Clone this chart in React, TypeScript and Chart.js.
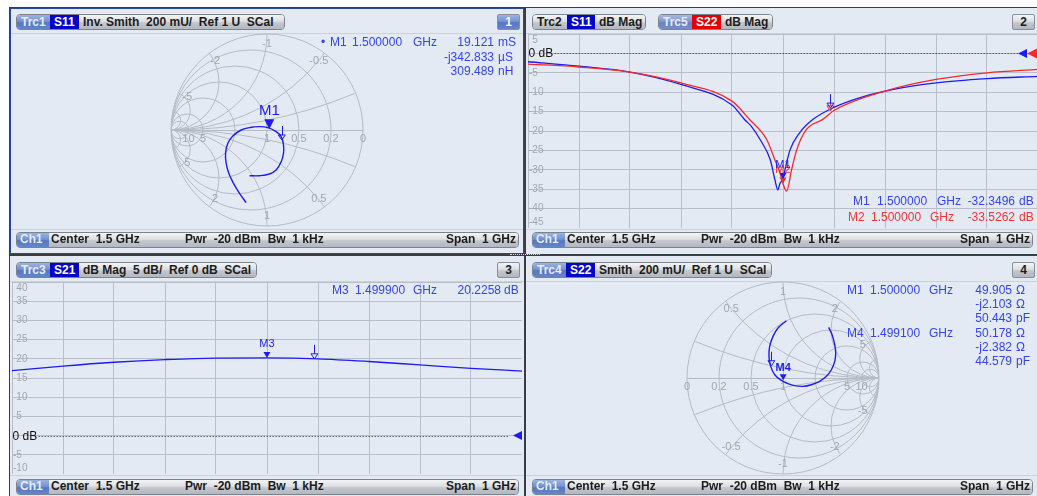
import React, { useEffect, useRef } from "react";
import { Chart, registerables } from "chart.js";
Chart.register(...registerables);

// ================= DATA =================
// Trc3 S21 dB Mag (frequency in GHz)
const s21FreqGHz = [1.0, 1.1, 1.2, 1.3, 1.4, 1.5, 1.6, 1.7, 1.8, 1.9, 2.0];
const s21MagDb = [16.9, 18.1, 19.1, 19.8, 20.2, 20.23, 20.0, 19.3, 18.4, 17.5, 16.8];

// Trc2 S11 dB Mag
const s11FreqGHz = [1.0, 1.1, 1.2, 1.3, 1.4, 1.425, 1.438, 1.455, 1.475, 1.484, 1.49, 1.494, 1.5, 1.504, 1.514, 1.533, 1.559, 1.6, 1.648, 1.7, 1.8, 1.9, 2.0];
const s11MagDb = [-2.15, -3.3, -4.8, -8.0, -13.3, -17.1, -18.8, -22.2, -27.4, -32.5, -35.2, -33.5, -32.35, -29.9, -24.8, -20.4, -17.0, -13.9, -11.5, -9.7, -7.6, -6.5, -5.9];

// Trc5 S22 dB Mag
const s22FreqGHz = [1.0, 1.1, 1.2, 1.3, 1.4, 1.435, 1.468, 1.484, 1.494, 1.5, 1.507, 1.517, 1.527, 1.546, 1.578, 1.6, 1.7, 1.8, 1.9, 2.0];
const s22MagDb = [-2.75, -3.5, -4.8, -7.6, -12.3, -17.1, -22.2, -27.4, -30.7, -33.53, -35.5, -29.9, -24.8, -19.6, -17.0, -14.7, -9.7, -6.7, -5.0, -4.1];

// Trc1 S11 on inverted Smith (reflection coefficient, real / imaginary)
const s11GammaRe = [-0.217, -0.286, -0.349, -0.398, -0.425, -0.432, -0.408, -0.356, -0.269, -0.165, -0.078, 0.009, 0.095, 0.148, 0.172, 0.172, 0.148, 0.095, 0.026, -0.078, -0.182];
const s11GammaIm = [-0.757, -0.66, -0.556, -0.451, -0.347, -0.243, -0.139, -0.063, 0.0, 0.028, 0.035, 0.024, -0.017, -0.069, -0.156, -0.243, -0.33, -0.417, -0.458, -0.476, -0.476];

// Trc4 S22 on Smith
const s22GammaRe = [0.476, 0.511, 0.539, 0.549, 0.539, 0.504, 0.452, 0.382, 0.295, 0.209, 0.122, 0.052, -0.017, -0.086, -0.128, -0.146, -0.139, -0.104, -0.052, 0.035];
const s22GammaIm = [0.527, 0.451, 0.347, 0.26, 0.173, 0.086, 0.017, -0.035, -0.07, -0.087, -0.08, -0.059, -0.025, 0.034, 0.121, 0.225, 0.33, 0.434, 0.521, 0.597];

// axis ticks
const freqMinGHz = 1.0;
const freqMaxGHz = 2.0;
const freqStepGHz = 0.1;
const trc2YTicks = [5, 0, -5, -10, -15, -20, -25, -30, -35, -40, -45];
const trc3YTicks = [40, 35, 30, 25, 20, 15, 10, 5, 0, -5, -10];
const smithCircleValues = [0.2, 0.5, 1, 2, 5, 10];
const smithArcValues = [0.2, 0.5, 1, 2, 5, 10];
const smithAxisLabels = [0, 0.2, 0.5, 1, 5, 10];
const smithArcLabels = [0.5, 1, 2, 5, -0.5, -1, -2, -5];

// markers
const trc2MarkerNames = ["M2", "M1"];
const trc2MarkerFreq = [1.5, 1.5];
const trc2MarkerDb = [-33.5262, -32.3496];
const trc3MarkerNames = ["M3"];
const trc3MarkerFreq = [1.4999];
const trc3MarkerDb = [20.2258];
const trackFreqGHz = 1.593;
const trc2TrackDb = [-14.8, -14.1];
const trc3TrackDb = [20.0];
const trc1MarkerGamma = [0.024, 0.009];
const trc1TrackGamma = [0.154, -0.104];
const trc4MarkerGamma = [0.002, -0.024];
const trc4TrackGamma = [-0.121, 0.128];

// ================= STYLE =================
const W = 1037;
const H = 496;
const SANS = '"Liberation Sans", Arial, sans-serif';
const BG = "#e4eaf4";
const GRID = "#b9bec8";
const SMITH_GRID = "#b5bac3";
const LABEL_GRAY = "#a0a5ae";
const TRACE_BLUE = "#1c1cf2";
const TRACE_RED = "#f42a2a";
const TEXT_BLUE = "#3344ee";
const TEXT_RED = "#ee3636";

function fillMarker(ctx: any, x: number, y: number, w: number, h: number, color: string, label: string, font: string, gap: number) {
  ctx.fillStyle = color;
  ctx.beginPath();
  ctx.moveTo(x, y);
  ctx.lineTo(x - w / 2, y - h);
  ctx.lineTo(x + w / 2, y - h);
  ctx.closePath();
  ctx.fill();
  ctx.font = font;
  ctx.textAlign = "center";
  ctx.textBaseline = "bottom";
  ctx.fillText(label, x, y - h - gap);
}

function trackMarker(ctx: any, x: number, y: number, color: string) {
  ctx.strokeStyle = color;
  ctx.lineWidth = 1;
  ctx.setLineDash([]);
  ctx.beginPath();
  ctx.moveTo(x - 3.5, y - 5);
  ctx.lineTo(x + 3.5, y - 5);
  ctx.lineTo(x, y);
  ctx.closePath();
  ctx.stroke();
  ctx.beginPath();
  ctx.moveTo(Math.round(x) + 0.5, y - 5);
  ctx.lineTo(Math.round(x) + 0.5, y - 14);
  ctx.stroke();
}

function DbChart(props: any) {
  const ref = useRef<HTMLCanvasElement>(null);
  const { left, top, width, height, yMin, yMax, yTicks, traces, markers, tracks, arrows, markerFont } = props;
  useEffect(() => {
    const canvas = ref.current!;
    const decor = {
      id: "dbDecor",
      beforeDatasetsDraw(chart: any) {
        const { ctx, chartArea: a } = chart;
        const ys = chart.scales.y;
        ctx.save();
        ctx.font = `10px ${SANS}`;
        ctx.fillStyle = LABEL_GRAY;
        ctx.textBaseline = "middle";
        ctx.textAlign = "left";
        const dash = ctx.measureText("-").width;
        for (const v of yTicks) {
          if (v === 0) continue;
          let py = ys.getPixelForValue(v);
          if (py < a.top + 6) py = a.top + 6;
          if (py > a.bottom - 6) py = a.bottom - 6;
          ctx.fillText(String(v), a.left + 1 + (v > 0 ? dash : 0), py);
        }
        const p0 = Math.round(ys.getPixelForValue(0)) + 0.5;
        ctx.font = `12px ${SANS}`;
        ctx.fillStyle = "#111";
        ctx.fillText("0 dB", a.left + 0.5, p0);
        const tw = ctx.measureText("0 dB").width;
        ctx.strokeStyle = "#222";
        ctx.lineWidth = 1;
        ctx.setLineDash([1, 2]);
        ctx.beginPath();
        ctx.moveTo(a.left + tw + 2, p0);
        ctx.lineTo(a.right - 14, p0);
        ctx.stroke();
        ctx.restore();
      },
      afterDatasetsDraw(chart: any) {
        const { ctx, chartArea: a } = chart;
        const xs = chart.scales.x;
        const ys = chart.scales.y;
        ctx.save();
        for (const t of tracks) {
          trackMarker(ctx, xs.getPixelForValue(t.f), ys.getPixelForValue(t.v), t.color);
        }
        for (const m of markers) {
          fillMarker(ctx, xs.getPixelForValue(m.f), ys.getPixelForValue(m.v), 7, 6, m.color, m.name, markerFont, 2);
        }
        const p0 = ys.getPixelForValue(0);
        for (const ar of arrows) {
          ctx.fillStyle = ar.color;
          ctx.beginPath();
          ctx.moveTo(a.right - ar.tip, p0);
          ctx.lineTo(a.right - ar.tip + ar.w, p0 - ar.h / 2);
          ctx.lineTo(a.right - ar.tip + ar.w, p0 + ar.h / 2);
          ctx.closePath();
          ctx.fill();
        }
        ctx.restore();
      },
    };
    const chart = new Chart(canvas, {
      type: "line",
      data: {
        datasets: traces.map((t: any) => ({
          data: t.f.map((f: number, i: number) => ({ x: f, y: t.v[i] })),
          borderColor: t.color,
          borderWidth: 1.3,
          pointRadius: 0,
          cubicInterpolationMode: "monotone",
          fill: false,
        })),
      },
      options: {
        responsive: false,
        animation: false,
        devicePixelRatio: 1,
        events: [],
        layout: { padding: 0 },
        plugins: { legend: { display: false }, tooltip: { enabled: false } },
        scales: {
          x: {
            type: "linear",
            min: freqMinGHz,
            max: freqMaxGHz,
            ticks: { display: false, stepSize: freqStepGHz },
            grid: { color: GRID, drawTicks: false, lineWidth: 1 },
            border: { display: false },
          },
          y: {
            type: "linear",
            min: yMin,
            max: yMax,
            ticks: { display: false, stepSize: 5 },
            grid: { color: GRID, drawTicks: false, lineWidth: 1 },
            border: { display: false },
          },
        },
      } as any,
      plugins: [decor],
    });
    return () => chart.destroy();
  }, []);
  return <canvas ref={ref} width={width} height={height} style={{ position: "absolute", left, top, width, height }} />;
}

function SmithChart(props: any) {
  const ref = useRef<HTMLCanvasElement>(null);
  const { cx, cy, size, radius, admittance, re, im, marker, track, markerCfg } = props;
  useEffect(() => {
    const canvas = ref.current!;
    const range = size / 2 / radius;
    const fmt = (v: number) => String(v);
    const grid = {
      id: "smithGrid",
      beforeDatasetsDraw(chart: any) {
        const { ctx } = chart;
        const xs = chart.scales.x;
        const ys = chart.scales.y;
        const px = (g: number) => xs.getPixelForValue(g);
        const py = (g: number) => ys.getPixelForValue(g);
        const c0x = px(0);
        const c0y = py(0);
        const R = px(1) - c0x;
        const m = admittance ? -1 : 1;
        ctx.save();
        ctx.lineWidth = 1;
        ctx.strokeStyle = SMITH_GRID;
        ctx.beginPath();
        ctx.arc(c0x, c0y, R, 0, Math.PI * 2);
        ctx.stroke();
        ctx.save();
        ctx.beginPath();
        ctx.arc(c0x, c0y, R, 0, Math.PI * 2);
        ctx.clip();
        for (const r of smithCircleValues) {
          ctx.beginPath();
          ctx.arc(px((m * r) / (1 + r)), c0y, R / (1 + r), 0, Math.PI * 2);
          ctx.stroke();
        }
        for (const xv of smithArcValues) {
          for (const s of [1, -1]) {
            ctx.beginPath();
            ctx.arc(px(m), py(s / xv), R / xv, 0, Math.PI * 2);
            ctx.stroke();
          }
        }
        ctx.beginPath();
        ctx.moveTo(c0x - R, Math.round(c0y) + 0.5);
        ctx.lineTo(c0x + R, Math.round(c0y) + 0.5);
        ctx.stroke();
        ctx.restore();
        ctx.font = `11px ${SANS}`;
        ctx.fillStyle = LABEL_GRAY;
        ctx.textAlign = "center";
        ctx.textBaseline = "middle";
        for (const r of smithAxisLabels) {
          ctx.fillText(fmt(r), px((m * (r - 1)) / (r + 1)), c0y + 9);
        }
        for (const v of smithArcLabels) {
          const d = v * v + 1;
          const gx = ((m * (v * v - 1)) / d) * 0.9;
          const gy = ((2 * v) / d) * 0.9;
          ctx.fillText(fmt(admittance ? -v : v), px(gx), py(gy));
        }
        ctx.restore();
      },
      afterDatasetsDraw(chart: any) {
        const { ctx } = chart;
        const xs = chart.scales.x;
        const ys = chart.scales.y;
        ctx.save();
        trackMarker(ctx, xs.getPixelForValue(track[0]), ys.getPixelForValue(track[1]), TRACE_BLUE);
        fillMarker(
          ctx,
          xs.getPixelForValue(marker[0]),
          ys.getPixelForValue(marker[1]),
          markerCfg.w,
          markerCfg.h,
          TRACE_BLUE,
          markerCfg.name,
          markerCfg.font,
          markerCfg.gap
        );
        ctx.restore();
      },
    };
    const chart = new Chart(canvas, {
      type: "scatter",
      data: {
        datasets: [
          {
            data: re.map((r: number, i: number) => ({ x: r, y: im[i] })),
            showLine: true,
            borderColor: TRACE_BLUE,
            borderWidth: 1.4,
            pointRadius: 0,
            tension: 0.4,
            fill: false,
          },
        ],
      },
      options: {
        responsive: false,
        animation: false,
        devicePixelRatio: 1,
        events: [],
        layout: { padding: 0 },
        plugins: { legend: { display: false }, tooltip: { enabled: false } },
        scales: {
          x: { type: "linear", min: -range, max: range, display: false },
          y: { type: "linear", min: -range, max: range, display: false },
        },
      } as any,
      plugins: [grid],
    });
    return () => chart.destroy();
  }, []);
  return (
    <canvas
      ref={ref}
      width={size}
      height={size}
      style={{ position: "absolute", left: cx - size / 2, top: cy - size / 2, width: size, height: size }}
    />
  );
}

const GRAY_GRAD = "linear-gradient(#f3f4f6 0%, #dcdfe3 45%, #c4c7cd 55%, #b3b7be 100%)";
const BLUE_GRAD = "linear-gradient(#9bb3e2 0%, #7393d2 45%, #5677bf 55%, #6486c8 100%)";
const ALT_GRAD = "linear-gradient(#a5b8df 0%, #8199cf 45%, #6782bf 55%, #7590c8 100%)";

function segBg(kind: string) {
  switch (kind) {
    case "trc":
      return { background: BLUE_GRAD, color: "#e6ecf8" };
    case "alt":
      return { background: ALT_GRAD, color: "#e6ecf8" };
    case "sblue":
      return { background: "#0505c8", color: "#ffffff" };
    case "sred":
      return { background: "#e40000", color: "#ffffff" };
    default:
      return { background: GRAY_GRAD, color: "#1c1c1c" };
  }
}

function Btn({ left, top, segs }: any) {
  return (
    <div
      style={{
        position: "absolute",
        left,
        top,
        height: 16,
        display: "flex",
        borderRadius: 4,
        overflow: "hidden",
        border: "1px solid #7d838d",
        boxSizing: "border-box",
        font: `bold 12px ${SANS}`,
        whiteSpace: "pre",
      }}
    >
      {segs.map((s: any, i: number) => (
        <div
          key={i}
          style={{
            ...segBg(s.kind),
            width: s.w,
            boxSizing: "border-box",
            paddingLeft: s.pl ?? 4,
            display: "flex",
            alignItems: "center",
            lineHeight: "14px",
          }}
        >
          {s.text}
        </div>
      ))}
    </div>
  );
}

function NumBox({ left, top, text, active }: any) {
  return (
    <div
      style={{
        position: "absolute",
        left,
        top,
        width: 23,
        height: 16,
        boxSizing: "border-box",
        border: "1px solid #8a9099",
        borderRadius: 2,
        background: active ? BLUE_GRAD : GRAY_GRAD,
        color: active ? "#f0f4fc" : "#1c1c1c",
        font: `bold 12px ${SANS}`,
        display: "flex",
        alignItems: "center",
        justifyContent: "center",
        lineHeight: "14px",
      }}
    >
      {text}
    </div>
  );
}

function Footer({ left, top, width }: any) {
  return (
    <div style={{ position: "absolute", left, top, width, height: 16 }}>
      <div
        style={{
          position: "absolute",
          inset: 0,
          display: "flex",
          borderRadius: 4,
          overflow: "hidden",
          border: "1px solid #7d838d",
          boxSizing: "border-box",
        }}
      >
        <div style={{ width: 32, background: BLUE_GRAD }} />
        <div style={{ flex: 1, background: GRAY_GRAD }} />
      </div>
      <div style={{ position: "absolute", left: 4, top: 0, height: 16, lineHeight: "16px", font: `bold 12px ${SANS}`, color: "#e6ecf8" }}>Ch1</div>
      <div style={{ position: "absolute", left: 35, top: 0, height: 16, lineHeight: "16px", font: `bold 12px ${SANS}`, color: "#1c1c1c", whiteSpace: "pre" }}>
        Center  1.5 GHz
      </div>
      <div style={{ position: "absolute", left: 169, top: 0, height: 16, lineHeight: "16px", font: `bold 12px ${SANS}`, color: "#1c1c1c", whiteSpace: "pre" }}>
        Pwr  -20 dBm  Bw  1 kHz
      </div>
      <div style={{ position: "absolute", right: 3, top: 0, height: 16, lineHeight: "16px", font: `bold 12px ${SANS}`, color: "#1c1c1c", whiteSpace: "pre" }}>
        Span  1 GHz
      </div>
    </div>
  );
}

function Txt({ x, y, text, color, right }: any) {
  const st: any = {
    position: "absolute",
    top: y - 8,
    height: 16,
    lineHeight: "16px",
    font: `12px ${SANS}`,
    color,
    whiteSpace: "pre",
  };
  if (right) st.right = W - x;
  else st.left = x;
  return <div style={st}>{text}</div>;
}

function Readout({ y, color, name, nameX, freq, freqX, unitX, value, valueX, vunit, vunitX }: any) {
  return (
    <>
      {name != null && <Txt x={nameX} y={y} text={name} color={color} />}
      {freq != null && <Txt x={freqX} y={y} text={freq} color={color} />}
      {freq != null && <Txt x={unitX} y={y} text="GHz" color={color} />}
      <Txt x={valueX} y={y} text={value} color={color} right />
      <Txt x={vunitX} y={y} text={vunit} color={color} />
    </>
  );
}

export default function App() {
  const dash = (left: number, top: number, width: number) => (
    <div style={{ position: "absolute", left, top, width, height: 1, background: "#cdd2da" }} />
  );
  return (
    <div style={{ position: "fixed", left: 0, top: 0, width: W, height: H, background: "#ffffff", overflow: "hidden", fontFamily: SANS }}>
      <div style={{ position: "absolute", left: 9, top: 7, width: W - 9, height: H - 7, background: "#3a3d45" }} />
      <div style={{ position: "absolute", left: 10, top: 8, width: 514, height: 246, background: BG, border: "1px solid #2a47a2", boxSizing: "border-box" }} />
      <div style={{ position: "absolute", left: 526, top: 8, width: 511, height: 246, background: BG }} />
      <div style={{ position: "absolute", left: 10, top: 256, width: 514, height: 240, background: BG }} />
      <div style={{ position: "absolute", left: 526, top: 256, width: 511, height: 240, background: BG }} />
      <div style={{ position: "absolute", left: 510, top: 254, width: 30, height: 1, borderTop: "1px dotted #d8dce2" }} />
      {dash(11, 33, 512)}
      {dash(526, 33, 511)}
      {dash(11, 229, 512)}
      {dash(526, 229, 511)}
      {dash(10, 281, 514)}
      {dash(526, 281, 511)}
      {dash(10, 475, 514)}
      {dash(526, 475, 511)}

      {/* Panel 1: inverted Smith */}
      <SmithChart
        cx={267}
        cy={130}
        size={210}
        radius={96}
        admittance
        re={s11GammaRe}
        im={s11GammaIm}
        marker={trc1MarkerGamma}
        track={trc1TrackGamma}
        markerCfg={{ name: "M1", w: 10, h: 10, font: `15px ${SANS}`, gap: 1 }}
      />
      {/* Panel 2: dB Mag S11 / S22 */}
      <DbChart
        left={528}
        top={34}
        width={510}
        height={194}
        yMin={-45}
        yMax={5}
        yTicks={trc2YTicks}
        traces={[
          { f: s22FreqGHz, v: s22MagDb, color: TRACE_RED },
          { f: s11FreqGHz, v: s11MagDb, color: TRACE_BLUE },
        ]}
        markers={trc2MarkerNames.map((n, i) => ({ name: n, f: trc2MarkerFreq[i], v: trc2MarkerDb[i], color: i === 0 ? TRACE_RED : TRACE_BLUE }))}
        tracks={trc2TrackDb.map((v, i) => ({ f: trackFreqGHz, v, color: i === 0 ? TRACE_RED : TRACE_BLUE }))}
        arrows={[
          { color: TRACE_BLUE, tip: 20, w: 9, h: 9 },
          { color: TRACE_RED, tip: 11, w: 11, h: 11 },
        ]}
        markerFont={`11px ${SANS}`}
      />
      {/* Panel 3: S21 dB Mag */}
      <DbChart
        left={12}
        top={282}
        width={510}
        height={192}
        yMin={-10}
        yMax={40}
        yTicks={trc3YTicks}
        traces={[{ f: s21FreqGHz, v: s21MagDb, color: TRACE_BLUE }]}
        markers={trc3MarkerNames.map((n, i) => ({ name: n, f: trc3MarkerFreq[i], v: trc3MarkerDb[i], color: TRACE_BLUE }))}
        tracks={trc3TrackDb.map((v) => ({ f: trackFreqGHz, v, color: TRACE_BLUE }))}
        arrows={[{ color: TRACE_BLUE, tip: 9, w: 9, h: 9 }]}
        markerFont={`11px ${SANS}`}
      />
      {/* Panel 4: Smith S22 */}
      <SmithChart
        cx={783}
        cy={378}
        size={210}
        radius={96}
        admittance={false}
        re={s22GammaRe}
        im={s22GammaIm}
        marker={trc4MarkerGamma}
        track={trc4TrackGamma}
        markerCfg={{ name: "M4", w: 7, h: 6, font: `bold 11px ${SANS}`, gap: 1 }}
      />

      {/* headers */}
      <Btn
        left={16}
        top={14}
        segs={[
          { text: "Trc1", kind: "trc", w: 33 },
          { text: "S11", kind: "sblue", w: 29 },
          { text: "Inv. Smith  200 mU/  Ref 1 U  SCal", kind: "gray", w: 205 },
        ]}
      />
      <NumBox left={497} top={14} text="1" active />
      <Btn
        left={532}
        top={14}
        segs={[
          { text: "Trc2", kind: "gray", w: 34 },
          { text: "S11", kind: "sblue", w: 28 },
          { text: "dB Mag", kind: "gray", w: 50 },
        ]}
      />
      <Btn
        left={658}
        top={14}
        segs={[
          { text: "Trc5", kind: "alt", w: 33 },
          { text: "S22", kind: "sred", w: 29 },
          { text: "dB Mag", kind: "gray", w: 51 },
        ]}
      />
      <NumBox left={1012} top={14} text="2" />
      <Btn
        left={16}
        top={262}
        segs={[
          { text: "Trc3", kind: "trc", w: 33 },
          { text: "S21", kind: "sblue", w: 29 },
          { text: "dB Mag  5 dB/  Ref 0 dB  SCal", kind: "gray", w: 177 },
        ]}
      />
      <NumBox left={497} top={262} text="3" />
      <Btn
        left={532}
        top={262}
        segs={[
          { text: "Trc4", kind: "trc", w: 33 },
          { text: "S22", kind: "sblue", w: 29 },
          { text: "Smith  200 mU/  Ref 1 U  SCal", kind: "gray", w: 176 },
        ]}
      />
      <NumBox left={1012} top={262} text="4" />

      {/* footers */}
      <Footer left={16} top={232} width={503} />
      <Footer left={532} top={232} width={501} />
      <Footer left={16} top={479} width={503} />
      <Footer left={532} top={479} width={501} />

      {/* readouts */}
      <Txt x={321} y={43} text="•" color={TEXT_BLUE} />
      <Readout y={43} color={TEXT_BLUE} name="M1" nameX={330} freq="1.500000" freqX={352} unitX={413} value="19.121" valueX={494} vunit="mS" vunitX={498} />
      <Readout y={58} color={TEXT_BLUE} value="-j342.833" valueX={494} vunit="µS" vunitX={498} />
      <Readout y={72} color={TEXT_BLUE} value="309.489" valueX={494} vunit="nH" vunitX={498} />

      <Readout y={202} color={TEXT_BLUE} name="M1" nameX={853} freq="1.500000" freqX={877} unitX={937} value="-32.3496" valueX={1015} vunit="dB" vunitX={1019} />
      <Readout y={218} color={TEXT_RED} name="M2" nameX={848} freq="1.500000" freqX={871} unitX={930} value="-33.5262" valueX={1015} vunit="dB" vunitX={1019} />

      <Readout y={291} color={TEXT_BLUE} name="M3" nameX={332} freq="1.499900" freqX={355} unitX={413} value="20.2258" valueX={501} vunit="dB" vunitX={504} />

      <Readout y={291} color={TEXT_BLUE} name="M1" nameX={847} freq="1.500000" freqX={870} unitX={929} value="49.905" valueX={1012} vunit="Ω" vunitX={1016} />
      <Readout y={305} color={TEXT_BLUE} value="-j2.103" valueX={1012} vunit="Ω" vunitX={1016} />
      <Readout y={319} color={TEXT_BLUE} value="50.443" valueX={1012} vunit="pF" vunitX={1016} />
      <Readout y={334} color={TEXT_BLUE} name="M4" nameX={847} freq="1.499100" freqX={870} unitX={929} value="50.178" valueX={1012} vunit="Ω" vunitX={1016} />
      <Readout y={348} color={TEXT_BLUE} value="-j2.382" valueX={1012} vunit="Ω" vunitX={1016} />
      <Readout y={362} color={TEXT_BLUE} value="44.579" valueX={1012} vunit="pF" vunitX={1016} />
    </div>
  );
}
